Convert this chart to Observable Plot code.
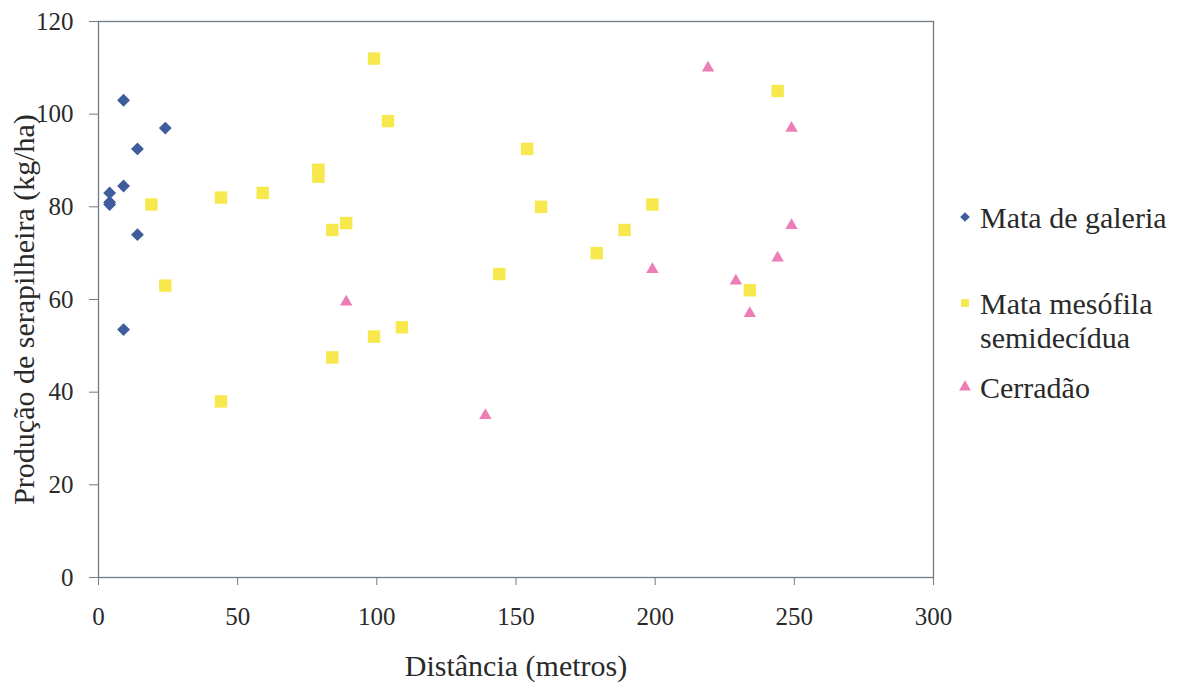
<!DOCTYPE html>
<html>
<head>
<meta charset="utf-8">
<script src="https://cdn.jsdelivr.net/npm/d3@7"></script>
<script src="https://cdn.jsdelivr.net/npm/@observablehq/plot@0.6"></script>
<style>
  html, body { margin: 0; padding: 0; background: #ffffff; }
  #wrap { position: relative; width: 1180px; height: 685px; overflow: hidden; font-family: "Liberation Serif", "Times New Roman", serif; color: #2a2a2a; }
  #chart { position: absolute; left: 0; top: 0; }
  #chart svg text { font-family: "Liberation Serif", "Times New Roman", serif !important; }
  .lg { position: absolute; left: 955px; font-size: 30px; line-height: 34px; white-space: nowrap; }
  .lg svg { position: absolute; left: 0; }
  .lg span { position: absolute; left: 25px; }
</style>
</head>
<body>
<div id="wrap"><div id="chart"></div><div id="legend"></div></div>
<script>
const seriesNames = ["Mata de galeria", "Mata mesófila semidecídua", "Cerradão"];
const seriesColors = ["#3f5d9c", "#f7e84e", "#ee7db6"];
const seriesSymbols = ["diamond2", "square", "triangle"];

const galeriaX = [9, 24, 14, 9, 4, 4, 4, 14, 9];
const galeriaY = [103, 97, 92.5, 84.5, 83, 81, 80.5, 74, 53.5];

const mesofilaX = [19, 24, 99, 104, 79, 79, 44, 59, 89, 84, 109, 99, 84, 44, 154, 159, 199, 189, 179, 144, 244, 234];
const mesofilaY = [80.5, 63, 112, 98.5, 88, 86.5, 82, 83, 76.5, 75, 54, 52, 47.5, 38, 92.5, 80, 80.5, 75, 70, 65.5, 105, 62];

const cerradaoX = [89, 139, 199, 219, 249, 249, 244, 229, 234];
const cerradaoY = [59.5, 35, 66.5, 110, 97, 76, 69, 64, 57];

const xTicks = [0, 50, 100, 150, 200, 250, 300];
const yTicks = [0, 20, 40, 60, 80, 100, 120];

const toRows = (xs, ys) => xs.map((x, i) => ({x, y: ys[i]}));
const galeria = toRows(galeriaX, galeriaY);
const mesofila = toRows(mesofilaX, mesofilaY);
const cerradao = toRows(cerradaoX, cerradaoY);

const axisColor = "#6f7c86";

const chart = Plot.plot({
  width: 960,
  height: 685,
  marginLeft: 98,
  marginRight: 27,
  marginTop: 21,
  marginBottom: 108,
  style: { fontFamily: "'Liberation Serif', 'Times New Roman', serif", fontSize: "25px", color: "#2a2a2a", background: "transparent", overflow: "visible" },
  x: { domain: [0, 300], ticks: xTicks, labelArrow: "none" },
  y: { domain: [0, 120], ticks: yTicks, labelArrow: "none" },
  marks: [
    Plot.frame({ stroke: axisColor, strokeWidth: 1.3 }),
    Plot.axisX({ ticks: xTicks, tickSize: 8, tickPadding: 22, stroke: axisColor, label: "Distância (metros)", labelArrow: "none", labelAnchor: "center", labelOffset: 98, fontSize: 25 }),
    Plot.axisY({ ticks: yTicks, tickSize: 9, tickPadding: 16, stroke: axisColor, label: "Produção de serapilheira (kg/ha)", labelArrow: "none", labelAnchor: "center", labelOffset: 86, fontSize: 25 }),
    Plot.dot(mesofila, { x: "x", y: "y", symbol: () => seriesSymbols[1], fill: seriesColors[1], r: 7, stroke: "none" }),
    Plot.dot(cerradao, { x: "x", y: "y", symbol: () => seriesSymbols[2], fill: seriesColors[2], r: 4.6, stroke: "none" }),
    Plot.dot(galeria, { x: "x", y: "y", symbol: () => seriesSymbols[0], fill: seriesColors[0], r: 5.8, stroke: "none" })
  ]
});
chart.querySelectorAll("[aria-label='x-axis label'] text, [aria-label='y-axis label'] text, [aria-label='x-axis label'], [aria-label='y-axis label']").forEach(t => t.setAttribute("font-size", "30"));
const yLab = chart.querySelector("[aria-label='y-axis label']");
if (yLab) {
  const prev = yLab.getAttribute("transform") || "";
  yLab.setAttribute("transform", (prev + " translate(0,10)").trim());
}
document.getElementById("chart").appendChild(chart);

// Legend (HTML, right of the plot)
const legendTops = [201, 287, 371];
const legendSymbols = { diamond2: d3.symbolDiamond2, square: d3.symbolSquare, triangle: d3.symbolTriangle };
const legend = document.getElementById("legend");
seriesNames.forEach((name, i) => {
  const item = document.createElement("div");
  item.className = "lg";
  item.style.top = legendTops[i] + "px";
  const path = d3.symbol(legendSymbols[seriesSymbols[i]], 60)();
  item.innerHTML = `<svg width="20" height="20" style="top:6px" viewBox="-10 -10 20 20"><path d="${path}" fill="${seriesColors[i]}"></path></svg>`;
  const span = document.createElement("span");
  if (i === 1) { span.innerHTML = "Mata mesófila<br>semidecídua"; } else { span.textContent = name; }
  item.appendChild(span);
  legend.appendChild(item);
});
</script>
</body>
</html>
